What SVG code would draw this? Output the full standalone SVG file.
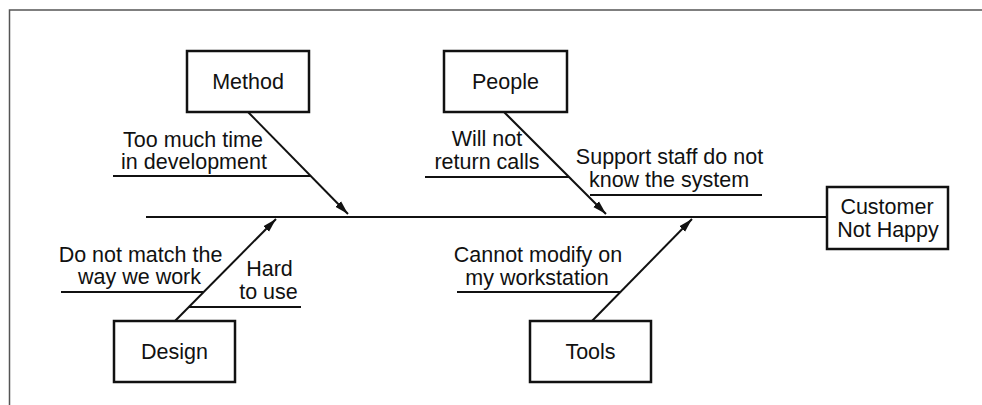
<svg xmlns="http://www.w3.org/2000/svg" width="982" height="405" viewBox="0 0 982 405">
<style>
.box{fill:#fff;stroke:#111;stroke-width:2.5}
.ln{stroke:#111;stroke-width:2;fill:none}
.frame{stroke:#555;stroke-width:1.5;fill:none}
text{font-family:"Liberation Sans",Arial,sans-serif;font-size:21.5px;fill:#111;text-anchor:middle}
</style>
<defs>
<marker id="ah" markerUnits="userSpaceOnUse" markerWidth="15" markerHeight="10" refX="14" refY="5" orient="auto">
<path d="M0,1 L14,5 L0,9 Z" fill="#111"/>
</marker>
</defs>
<rect width="982" height="405" fill="#fff"/>
<path class="frame" d="M9.5,405 V10 H982"/>
<g id="connectors">
<line class="ln" x1="146" y1="217" x2="827" y2="217"/>
<line class="ln" x1="248" y1="112" x2="348" y2="214" marker-end="url(#ah)"/>
<line class="ln" x1="504" y1="112" x2="606" y2="214" marker-end="url(#ah)"/>
<line class="ln" x1="175" y1="321" x2="276" y2="219" marker-end="url(#ah)"/>
<line class="ln" x1="592" y1="321" x2="692" y2="219" marker-end="url(#ah)"/>
<line class="ln" x1="113" y1="176" x2="311" y2="176"/>
<line class="ln" x1="425" y1="177" x2="569" y2="177"/>
<line class="ln" x1="590" y1="195" x2="762" y2="195"/>
<line class="ln" x1="61" y1="292" x2="203" y2="292"/>
<line class="ln" x1="189" y1="307" x2="301" y2="307"/>
<line class="ln" x1="457" y1="292" x2="620" y2="292"/>
</g>
<g id="method">
<rect class="box" x="187" y="51" width="122" height="61"/>
<text x="248" y="89">Method</text>
</g>
<g id="people">
<rect class="box" x="444" y="51" width="123" height="61"/>
<text x="505.5" y="89">People</text>
</g>
<g id="design">
<rect class="box" x="114" y="321" width="121" height="61"/>
<text x="174.5" y="359">Design</text>
</g>
<g id="tools">
<rect class="box" x="530" y="321" width="121" height="61"/>
<text x="590.5" y="359">Tools</text>
</g>
<g id="customer">
<rect class="box" x="827" y="187" width="121" height="62"/>
<text x="887" y="214">Customer</text>
<text x="888" y="237">Not Happy</text>
</g>
<g id="cause-method">
<text x="193" y="147">Too much time</text>
<text x="194" y="169">in development</text>
</g>
<g id="cause-people-1">
<text x="487" y="146">Will not</text>
<text x="487" y="169">return calls</text>
</g>
<g id="cause-people-2">
<text x="669.5" y="164">Support staff do not</text>
<text x="669" y="187">know the system</text>
</g>
<g id="cause-design-1">
<text x="140.5" y="262">Do not match the</text>
<text x="139.5" y="284">way we work</text>
</g>
<g id="cause-design-2">
<text x="269.5" y="276">Hard</text>
<text x="268.5" y="299">to use</text>
</g>
<g id="cause-tools">
<text x="538" y="262">Cannot modify on</text>
<text x="537" y="285">my workstation</text>
</g>
</svg>
